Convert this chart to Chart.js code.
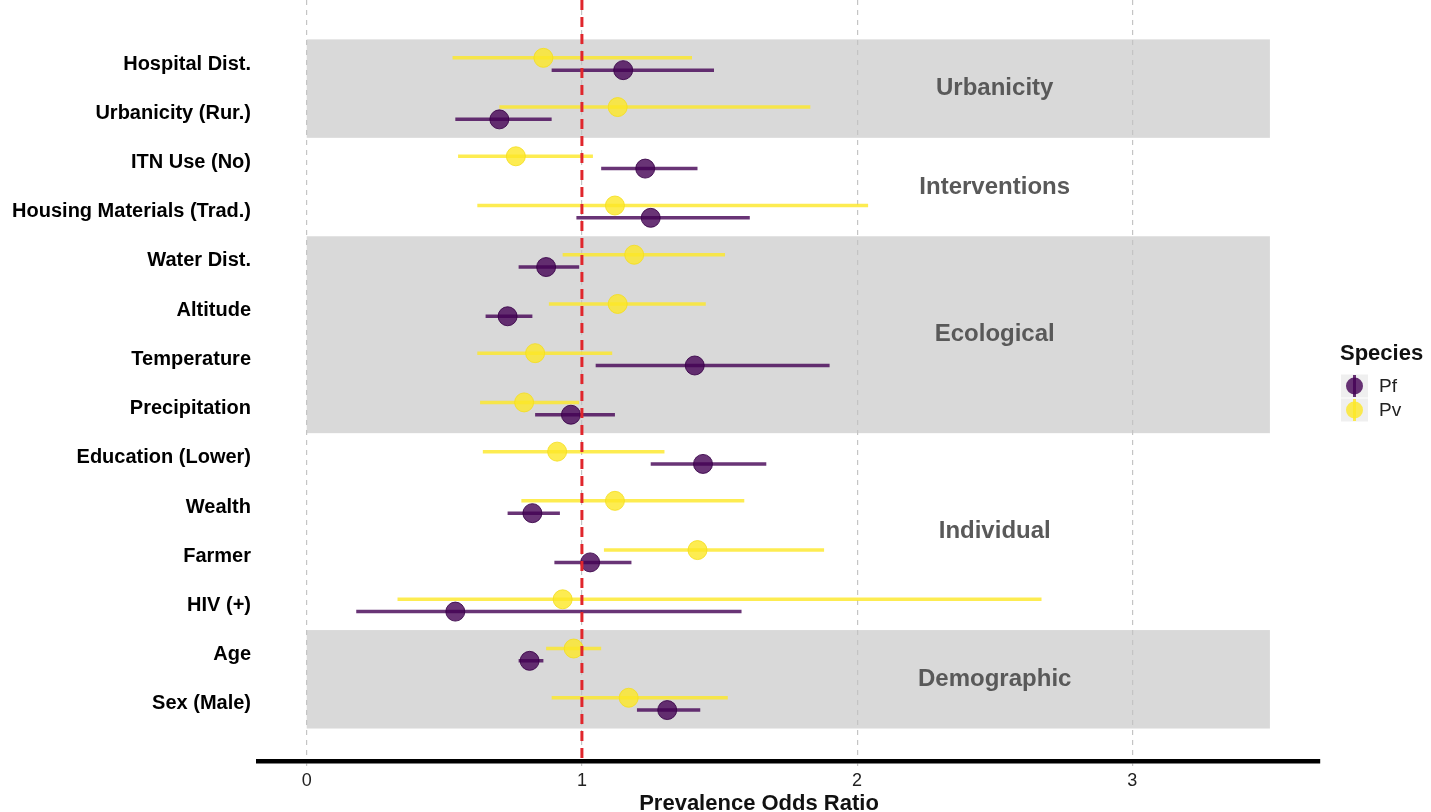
<!DOCTYPE html>
<html lang="en">
<head>
    <meta charset="UTF-8">
    <title>Prevalence Odds Ratio by Species</title>
    <script src="https://cdn.jsdelivr.net/npm/chart.js"></script>
    <style>
        body {
            margin: 0;
            background: #fff;
        }
        #wrap {
            width: 1431px;
            height: 812px;
            position: relative;
        }
    </style>
</head>
<body>

<div id="wrap"><canvas id="forest"></canvas></div>

<script>
    // rows, top to bottom
    const labels = [
        'Hospital Dist.', 'Urbanicity (Rur.)', 'ITN Use (No)', 'Housing Materials (Trad.)',
        'Water Dist.', 'Altitude', 'Temperature', 'Precipitation',
        'Education (Lower)', 'Wealth', 'Farmer', 'HIV (+)', 'Age', 'Sex (Male)'
    ];

    const pfEst  = [1.15, 0.70, 1.23, 1.25, 0.87, 0.73, 1.41, 0.96, 1.44, 0.82, 1.03, 0.54, 0.81, 1.31];
    const pfLow  = [0.89, 0.54, 1.07, 0.98, 0.77, 0.65, 1.05, 0.83, 1.25, 0.73, 0.90, 0.18, 0.77, 1.20];
    const pfHigh = [1.48, 0.89, 1.42, 1.61, 0.99, 0.82, 1.90, 1.12, 1.67, 0.92, 1.18, 1.58, 0.86, 1.43];

    const pvEst  = [0.86, 1.13, 0.76, 1.12, 1.19, 1.13, 0.83, 0.79, 0.91, 1.12, 1.42, 0.93, 0.97, 1.17];
    const pvLow  = [0.53, 0.70, 0.55, 0.62, 0.93, 0.88, 0.62, 0.63, 0.64, 0.78, 1.08, 0.33, 0.87, 0.89];
    const pvHigh = [1.40, 1.83, 1.04, 2.04, 1.52, 1.45, 1.11, 0.99, 1.30, 1.59, 1.88, 2.67, 1.07, 1.53];

    const groups     = ['Urbanicity', 'Interventions', 'Ecological', 'Individual', 'Demographic'];
    const groupFirst = [1, 3, 5, 9, 13];
    const groupLast  = [2, 4, 8, 12, 14];
    const groupShade = [true, false, true, false, true];

    const species = ['Pf', 'Pv'];
    const xTicks = [0, 1, 2, 3];

    const FONT = '"Liberation Sans", Arial, Helvetica, sans-serif';
    const PF = 'rgba(68, 1, 84, 0.8)';
    const PV = 'rgba(253, 231, 37, 0.8)';
    const OFF = 0.125; // dodge between species

    function ciData(low, high, shift) {
        const out = [];
        low.forEach((l, i) => {
            out.push({ x: l, y: i + 1 + shift });
            out.push({ x: high[i], y: i + 1 + shift });
            out.push({ x: null, y: null });
        });
        return out;
    }
    function estData(est, shift) {
        return est.map((v, i) => ({ x: v, y: i + 1 + shift }));
    }

    // grey bands + group names behind the data
    const bandPlugin = {
        id: 'bands',
        beforeDraw(chart) {
            const { ctx, scales: { x, y } } = chart;
            ctx.save();
            ctx.fillStyle = '#d9d9d9';
            groups.forEach((g, i) => {
                if (!groupShade[i]) return;
                const top = y.getPixelForValue(groupFirst[i] - 0.5);
                const bot = y.getPixelForValue(groupLast[i] + 0.5);
                const l = x.getPixelForValue(0);
                const r = x.getPixelForValue(3.5);
                ctx.fillRect(l, top, r - l, bot - top);
            });
            ctx.restore();
        },
        beforeDatasetsDraw(chart) {
            const { ctx, scales: { x, y } } = chart;
            ctx.save();
            ctx.fillStyle = '#595959';
            ctx.font = 'bold 24px ' + FONT;
            ctx.textAlign = 'center';
            ctx.textBaseline = 'middle';
            groups.forEach((g, i) => {
                const mid = (groupFirst[i] + groupLast[i]) / 2;
                ctx.fillText(g, x.getPixelForValue(2.5), y.getPixelForValue(mid));
            });
            ctx.restore();
        }
    };

    // red reference line at OR = 1, x title, legend
    const overlayPlugin = {
        id: 'overlay',
        afterDatasetsDraw(chart) {
            const { ctx, chartArea, scales: { x } } = chart;
            const px = x.getPixelForValue(1);
            ctx.save();
            ctx.strokeStyle = '#e0262c';
            ctx.lineWidth = 3;
            ctx.setLineDash([10, 7]);
            ctx.beginPath();
            ctx.moveTo(px, chartArea.top);
            ctx.lineTo(px, chartArea.bottom);
            ctx.stroke();
            ctx.restore();
        },
        afterDraw(chart) {
            const { ctx } = chart;
            ctx.save();
            ctx.fillStyle = '#111';
            ctx.font = 'bold 22px ' + FONT;
            ctx.textAlign = 'center';
            ctx.textBaseline = 'alphabetic';
            ctx.fillText('Prevalence Odds Ratio', 759, 810);

            // legend
            ctx.textAlign = 'left';
            ctx.textBaseline = 'middle';
            ctx.font = 'bold 22px ' + FONT;
            ctx.fillText('Species', 1340, 354);
            ctx.font = '19px ' + FONT;
            species.forEach((s, i) => {
                const cy = 386 + i * 24;
                const col = i === 0 ? PF : PV;
                ctx.fillStyle = '#efefef';
                ctx.fillRect(1341, cy - 11.5, 27, 23);
                ctx.fillStyle = col;
                ctx.beginPath();
                ctx.arc(1354.5, cy, 8.5, 0, Math.PI * 2);
                ctx.fill();
                ctx.strokeStyle = col;
                ctx.lineWidth = 3;
                ctx.beginPath();
                ctx.moveTo(1354.5, cy - 11);
                ctx.lineTo(1354.5, cy + 11);
                ctx.stroke();
                ctx.fillStyle = '#222';
                ctx.fillText(s, 1379, cy + 1);
            });
            ctx.restore();
        }
    };

    const ctx = document.getElementById('forest').getContext('2d');
    new Chart(ctx, {
        type: 'scatter',
        data: {
            datasets: [
                {
                    label: 'Pf CI', data: ciData(pfLow, pfHigh, OFF), showLine: true,
                    borderColor: PF, borderWidth: 3.5, pointRadius: 0, order: 4
                },
                {
                    label: 'Pf', data: estData(pfEst, OFF), pointRadius: 9.5,
                    backgroundColor: PF, borderColor: 'rgba(55, 0, 70, 0.85)', borderWidth: 1, order: 3
                },
                {
                    label: 'Pv CI', data: ciData(pvLow, pvHigh, -OFF), showLine: true,
                    borderColor: PV, borderWidth: 3.5, pointRadius: 0, order: 2
                },
                {
                    label: 'Pv', data: estData(pvEst, -OFF), pointRadius: 9.5,
                    backgroundColor: PV, borderColor: 'rgba(245, 222, 30, 0.85)', borderWidth: 1, order: 1
                }
            ]
        },
        options: {
            responsive: true,
            maintainAspectRatio: false,
            animation: false,
            events: [],
            layout: { autoPadding: false, padding: { top: 0, right: 111, bottom: 0, left: 0 } },
            plugins: {
                legend: { display: false },
                tooltip: { enabled: false }
            },
            scales: {
                x: {
                    type: 'linear',
                    min: -0.177,
                    max: 3.682,
                    afterBuildTicks: (scale) => { scale.ticks = xTicks.map(v => ({ value: v })); },
                    afterFit: (scale) => {
                        scale.height = 51;
                        scale.paddingLeft = 0;
                        scale.paddingRight = 0;
                    },
                    grid: {
                        color: '#c4c4c4',
                        lineWidth: 1.2,
                        tickLength: 5,
                        tickColor: '#c4c4c4'
                    },
                    border: { display: true, color: '#000', width: 4.5, dash: [5, 5] },
                    ticks: {
                        padding: 4,
                        color: '#222',
                        font: { family: FONT, size: 18 }
                    }
                },
                y: {
                    type: 'linear',
                    reverse: true,
                    min: -0.30,
                    max: 15.16,
                    afterBuildTicks: (scale) => { scale.ticks = labels.map((l, i) => ({ value: i + 1 })); },
                    afterFit: (scale) => {
                        scale.width = 258;
                        scale.paddingTop = 0;
                        scale.paddingBottom = 0;
                    },
                    grid: { display: false, drawTicks: false },
                    border: { display: false },
                    ticks: {
                        padding: 7,
                        color: '#000',
                        font: { family: FONT, size: 20, weight: 'bold' },
                        callback: (v) => labels[v - 1]
                    }
                }
            }
        },
        plugins: [bandPlugin, overlayPlugin]
    });
</script>

</body>
</html>
